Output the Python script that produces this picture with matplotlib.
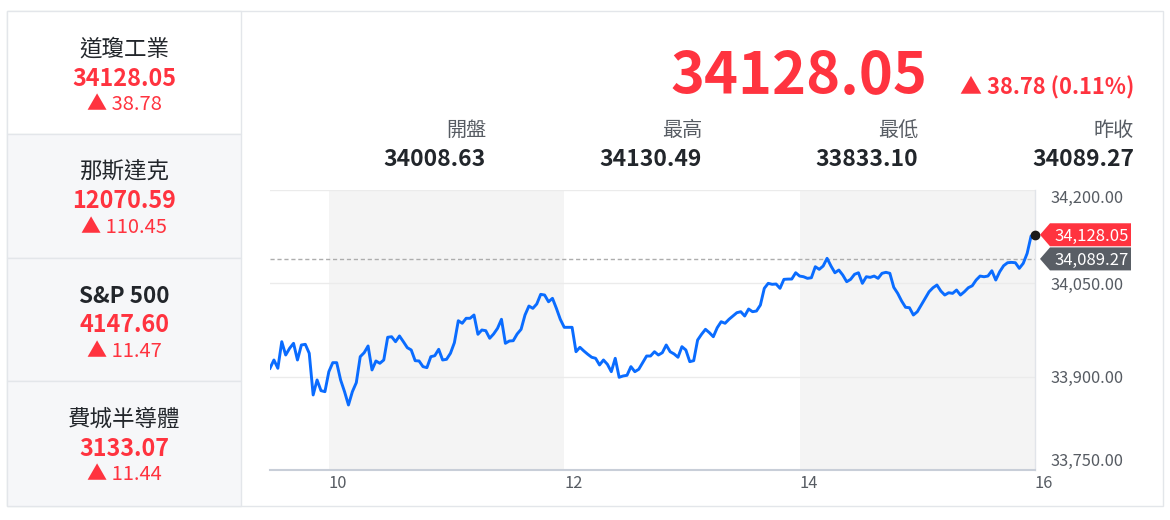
import matplotlib
matplotlib.use('Agg')
import matplotlib.pyplot as plt
from matplotlib.patches import Rectangle, Polygon
import numpy as np

plt.rcParams['font.family'] = ['Noto Sans CJK TC', 'DejaVu Sans']

W, H, DPI = 1170, 520, 100

# ---------------- data ----------------
index_names = ['道瓊工業', '那斯達克', 'S&P 500', '費城半導體']
index_values = ['34128.05', '12070.59', '4147.60', '3133.07']
index_changes = ['38.78', '110.45', '11.47', '11.44']

main_value = '34128.05'
main_change = '38.78'
main_change_pct = '0.11%'
stat_labels = ['開盤', '最高', '最低', '昨收']
stat_values = ['34008.63', '34130.49', '33833.10', '34089.27']

prev_close = 34089.27
last_price = 34128.05

session_start_hour = 9.5      # 09:30
step_minutes = 2
prices = [
    33913.5, 33926.8, 33913.5, 33956.2, 33934.8, 33945.6, 33953.6, 33926.8, 33950.9, 33952.0,
    33937.6, 33870.6, 33894.7, 33877.5, 33875.9, 33908.0, 33922.5, 33922.5, 33894.7, 33875.9,
    33854.5, 33875.9, 33890.4, 33932.1, 33938.5, 33949.3, 33910.8, 33925.2, 33921.5, 33926.8,
    33963.3, 33964.2, 33956.2, 33965.4, 33956.2, 33946.6, 33942.9, 33925.7, 33925.2, 33916.1,
    33914.5, 33932.1, 33933.7, 33944.0, 33926.8, 33927.9, 33937.6, 33954.6, 33989.9, 33985.8,
    33993.8, 33993.8, 33999.1, 33968.1, 33975.0, 33973.9, 33961.7, 33968.6, 33977.7, 33992.2,
    33953.6, 33957.3, 33957.8, 33968.6, 33976.1, 33999.1, 34013.5, 34009.8, 34016.8, 34032.3,
    34031.2, 34020.4, 34025.9, 34009.8, 33992.2, 33979.3, 33979.3, 33979.3, 33940.1, 33947.2,
    33941.3, 33936.0, 33931.2, 33929.5, 33918.8, 33926.8, 33919.9, 33908.0, 33929.5, 33899.0,
    33901.1, 33902.2, 33916.1, 33908.0, 33911.9, 33922.5, 33933.2, 33933.2, 33940.1, 33934.8,
    33938.5, 33950.9, 33940.1, 33936.5, 33931.2, 33948.2, 33942.9, 33924.1, 33925.7, 33958.9,
    33968.1, 33976.1, 33970.7, 33964.2, 33978.7, 33988.3, 33985.8, 33992.2, 33997.5, 34002.8,
    34004.4, 33997.5, 34008.7, 34004.4, 34005.5, 34015.1, 34042.0, 34050.0, 34048.4, 34048.9,
    34042.0, 34056.4, 34056.8, 34056.9, 34067.0, 34061.7, 34060.6, 34058.0, 34059.0, 34076.7,
    34072.5, 34077.8, 34090.2, 34077.8, 34067.0, 34071.4, 34063.3, 34052.6, 34056.4, 34064.5,
    34067.0, 34050.0, 34060.6, 34059.6, 34061.7, 34058.0, 34066.1, 34067.7, 34066.1, 34043.6,
    34033.9, 34021.6, 34011.5, 34010.8, 33999.1, 34004.4, 34015.1, 34025.9, 34036.5, 34042.9,
    34047.3, 34037.6, 34031.2, 34034.9, 34033.9, 34039.2, 34031.2, 34036.5, 34042.9, 34046.1,
    34055.3, 34061.7, 34060.6, 34061.7, 34070.2, 34055.3, 34068.6, 34078.3, 34083.1, 34083.7,
    34083.1, 34074.1, 34082.1, 34098.2, 34126.0, 34128.05,
]
y_ticks = [33750, 33900, 34050, 34200]
x_ticks = [10, 12, 14, 16]
shaded_periods = [(10, 12), (14, 16)]

# ---------------- style ----------------
RED = '#ff333f'
DARK = '#22262b'
GRAY_TXT = '#575c63'
LINE_BLUE = '#0a6cff'
BORDER = '#e3e6ea'
PANEL_GRAY = '#f6f7f9'
BAND = '#f4f4f4'

fig = plt.figure(figsize=(W / DPI, H / DPI), dpi=DPI)
fig.patch.set_facecolor('white')

bg = fig.add_axes([0, 0, 1, 1], zorder=0)
bg.set_xlim(0, W)
bg.set_ylim(H, 0)
bg.axis('off')

# outer card
bg.add_patch(Rectangle((7, 11), 1156, 495, fill=False, edgecolor=BORDER, lw=1))

# left panel cells
cell_tops = [11, 134, 258, 381, 506]
for i in range(4):
    top, bot = cell_tops[i], cell_tops[i + 1]
    fc = 'white' if i == 0 else PANEL_GRAY
    bg.add_patch(Rectangle((7, top), 234, bot - top, facecolor=fc,
                           edgecolor=BORDER, lw=1))
    cx = 124
    name_w = 'bold' if index_names[i].isascii() else 'normal'
    bg.text(cx, top + 36, index_names[i], ha='center', va='center_baseline',
            fontsize=16.2, color=DARK, fontweight=name_w)
    bg.text(cx, top + 65, index_values[i], ha='center', va='center_baseline',
            fontsize=16.8, fontweight='bold', color=RED)
    bg.text(cx, top + 91, '▲ ' + index_changes[i], ha='center', va='center_baseline',
            fontsize=14.5, color=RED)

# header
bg.text(927, 71, main_value, ha='right', va='center_baseline', fontsize=41.5,
        fontweight='bold', color=RED)
bg.text(1134, 85, f'▲ {main_change} ({main_change_pct})', ha='right',
        va='center_baseline', fontsize=15.8, fontweight='bold', color=RED)
stat_right = [486, 702, 918, 1134]
for xr, lab, val in zip(stat_right, stat_labels, stat_values):
    bg.text(xr, 128, lab, ha='right', va='center_baseline', fontsize=14.5, color=GRAY_TXT)
    bg.text(xr, 157, val, ha='right', va='center_baseline', fontsize=16.5,
            fontweight='bold', color=DARK)

# ---------------- chart ----------------
ax = fig.add_axes([270 / W, (H - 470) / H, 765 / W, 280 / H], zorder=2)
ax.set_facecolor('white')
times = session_start_hour + np.arange(len(prices)) * step_minutes / 60.0

ax.set_xlim(session_start_hour, 16)
ax.set_ylim(y_ticks[0], y_ticks[-1])

for a, b in shaded_periods:
    ax.axvspan(a, b, color=BAND, lw=0, zorder=0)
for yt in y_ticks[1:]:
    ax.axhline(yt, color='#ebebeb', lw=1, zorder=1)
ax.axhline(prev_close, color='#adadad', lw=1, ls=(0, (3, 2)), zorder=2)

ax.plot(times, prices, color=LINE_BLUE, lw=2.1, zorder=3,
        solid_joinstyle='round')
ax.plot([times[-1]], [prices[-1]], 'o', color='#1b1b1b', ms=6, zorder=6,
        clip_on=False)

for s in ['top', 'left']:
    ax.spines[s].set_visible(False)
ax.spines['bottom'].set_color('#c8ced8')
ax.spines['bottom'].set_linewidth(1.5)
ax.spines['right'].set_color('#e1e4e9')
ax.spines['right'].set_linewidth(1)

ax.yaxis.tick_right()
ax.set_yticks(y_ticks)
ax.set_yticklabels([f'{v:,.2f}' for v in y_ticks])
ax.tick_params(axis='y', length=0, pad=11.5, labelsize=11.8, labelcolor=GRAY_TXT)
ylabs = ax.get_yticklabels()
ylabs[0].set_va('bottom')
ylabs[-1].set_va('top')

ax.set_xticks(x_ticks)
ax.set_xticklabels([str(t) for t in x_ticks])
ax.tick_params(axis='x', length=0, pad=3.5, labelsize=11.8, labelcolor=GRAY_TXT)
for lab in ax.get_xticklabels():
    lab.set_ha('left')

# price tags on the right, positioned through the data transform
def to_px(x, y):
    dx, dy = ax.transData.transform((x, y))
    return dx, H - dy

x_end, _ = to_px(16, prev_close)
for val, col in [(prev_close, '#595e65'), (last_price, RED)]:
    _, yc = to_px(16, val)
    tip, base, right, hh = x_end + 5, x_end + 15, x_end + 96, 11.5
    bg_tag = Polygon([(tip, yc), (base, yc - hh), (right, yc - hh),
                      (right, yc + hh), (base, yc + hh)], closed=True,
                     facecolor=col, edgecolor='none', zorder=5)
    bg.add_patch(bg_tag)
    bg.text((base + right) / 2 + 1, yc, f'{val:,.2f}', ha='center',
            va='center_baseline', fontsize=12, color='white', zorder=6)

bg.set_zorder(3)
bg.patch.set_visible(False)

fig.savefig('out.png', dpi=DPI, facecolor='white')
